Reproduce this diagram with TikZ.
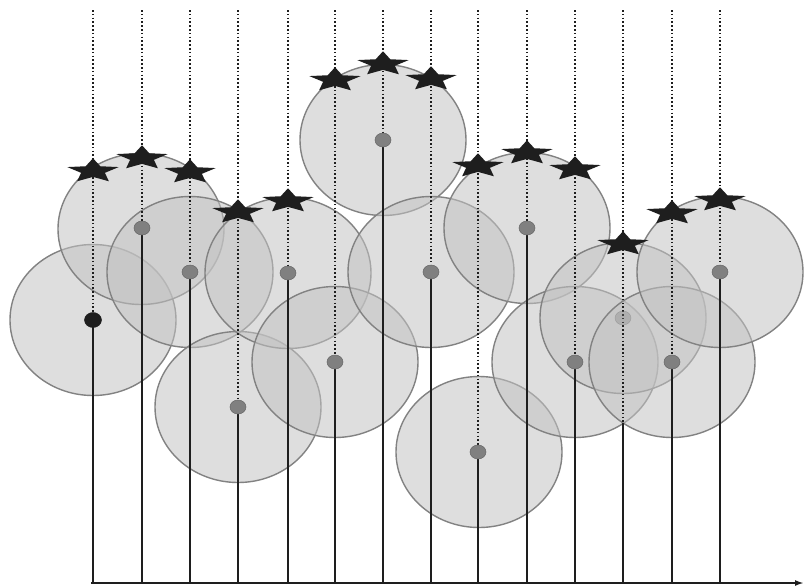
\documentclass[tikz,border=0pt]{standalone}
\usetikzlibrary{shapes.geometric,arrows.meta}
\definecolor{circfill}{RGB}{195,195,195}
\definecolor{circline}{RGB}{130,130,130}
\definecolor{dotgray}{RGB}{128,128,128}
\definecolor{ink}{RGB}{30,30,30}
\tikzset{
  region/.style={ellipse, draw=circline, line width=1.4pt, fill=circfill, fill opacity=0.55,
    minimum width=166pt, minimum height=151pt, inner sep=0pt},
  centre/.style={ellipse, fill=dotgray, draw=dotgray!80!black, line width=0.5pt,
    minimum width=16pt, minimum height=14pt, inner sep=0pt},
  ray/.style={ink, line width=1.6pt, dash pattern=on 1.6pt off 2.2pt},
  stem/.style={ink, line width=2pt},
  axisline/.style={ink, line width=2pt, -{Latex[length=9pt,width=6pt]}},
  mystar/.pic={\fill[ink, yscale=0.47] (90:27pt) -- (126:12.5pt) -- (162:27pt) -- (198:12.5pt)
     -- (234:27pt) -- (270:12.5pt) -- (306:27pt) -- (342:12.5pt) -- (18:27pt) -- (54:12.5pt) -- cycle;}
}
\begin{document}
\begin{tikzpicture}[x=1pt,y=-1pt]
\useasboundingbox (0,0) rectangle (804,587);
% circles
\foreach \i/\x/\y in {1/93/320,2/141/229,3/190/272,4/238/407,5/288/273,6/335/362,7/383/140,
  8/431/272,9/479/452,10/527/228,11/575/362,12/623/318,13/672/362,14/720/272}
  \node[region] (e\i) at (\x,\y) {};
% axis
\coordinate (o) at (91,583);
\coordinate (xend) at (804,583);
% lines
\foreach \i/\x/\cy/\de/\st in {
  1/93/320/320/320, 2/142/228/352/228, 3/190/272/487/272, 4/238/407/487/407,
  5/288/273/487/273, 6/335/362/440/362, 7/383/140/442/140, 8/431/272/570/272,
  9/478/452/528/452, 10/527/228/528/228, 11/575/362/362/362, 12/623/318/423/423,
  13/672/362/362/362, 14/720/272/437/272}{
  \coordinate (b\i) at (\x,583);
  \coordinate (s\i) at (\x,\st);
  \coordinate (t\i) at (\x,10);
  \coordinate (d\i) at (\x,\de);
  \draw[stem] (b\i) -- (s\i);
  \draw[ray] (t\i) -- (d\i);
}
\draw[axisline] (o) -- (xend);
% centre dots
\node[centre, fill=ink, draw=ink, minimum width=17pt, minimum height=15pt] (c1) at (93,320) {};
\foreach \i/\x/\y in {2/142/228,3/190/272,4/238/407,5/288/273,6/335/362,7/383/140,
  8/431/272,9/478/452,10/527/228,11/575/362,13/672/362,14/720/272}
  \node[centre] (c\i) at (\x,\y) {};
\node[centre, fill opacity=0.35, draw opacity=0.3] (c12) at (623,318) {};
% stars
\foreach \i/\x/\y in {1/93/171,2/142/158,3/190/172,4/238/212,5/288/201,6/335/80,7/383/64,
  8/431/79,9/478/166,10/527/153,11/575/169,12/623/244,13/672/213,14/720/200}
  \pic (star\i) at (\x,\y) {mystar};
\end{tikzpicture}
\end{document}
